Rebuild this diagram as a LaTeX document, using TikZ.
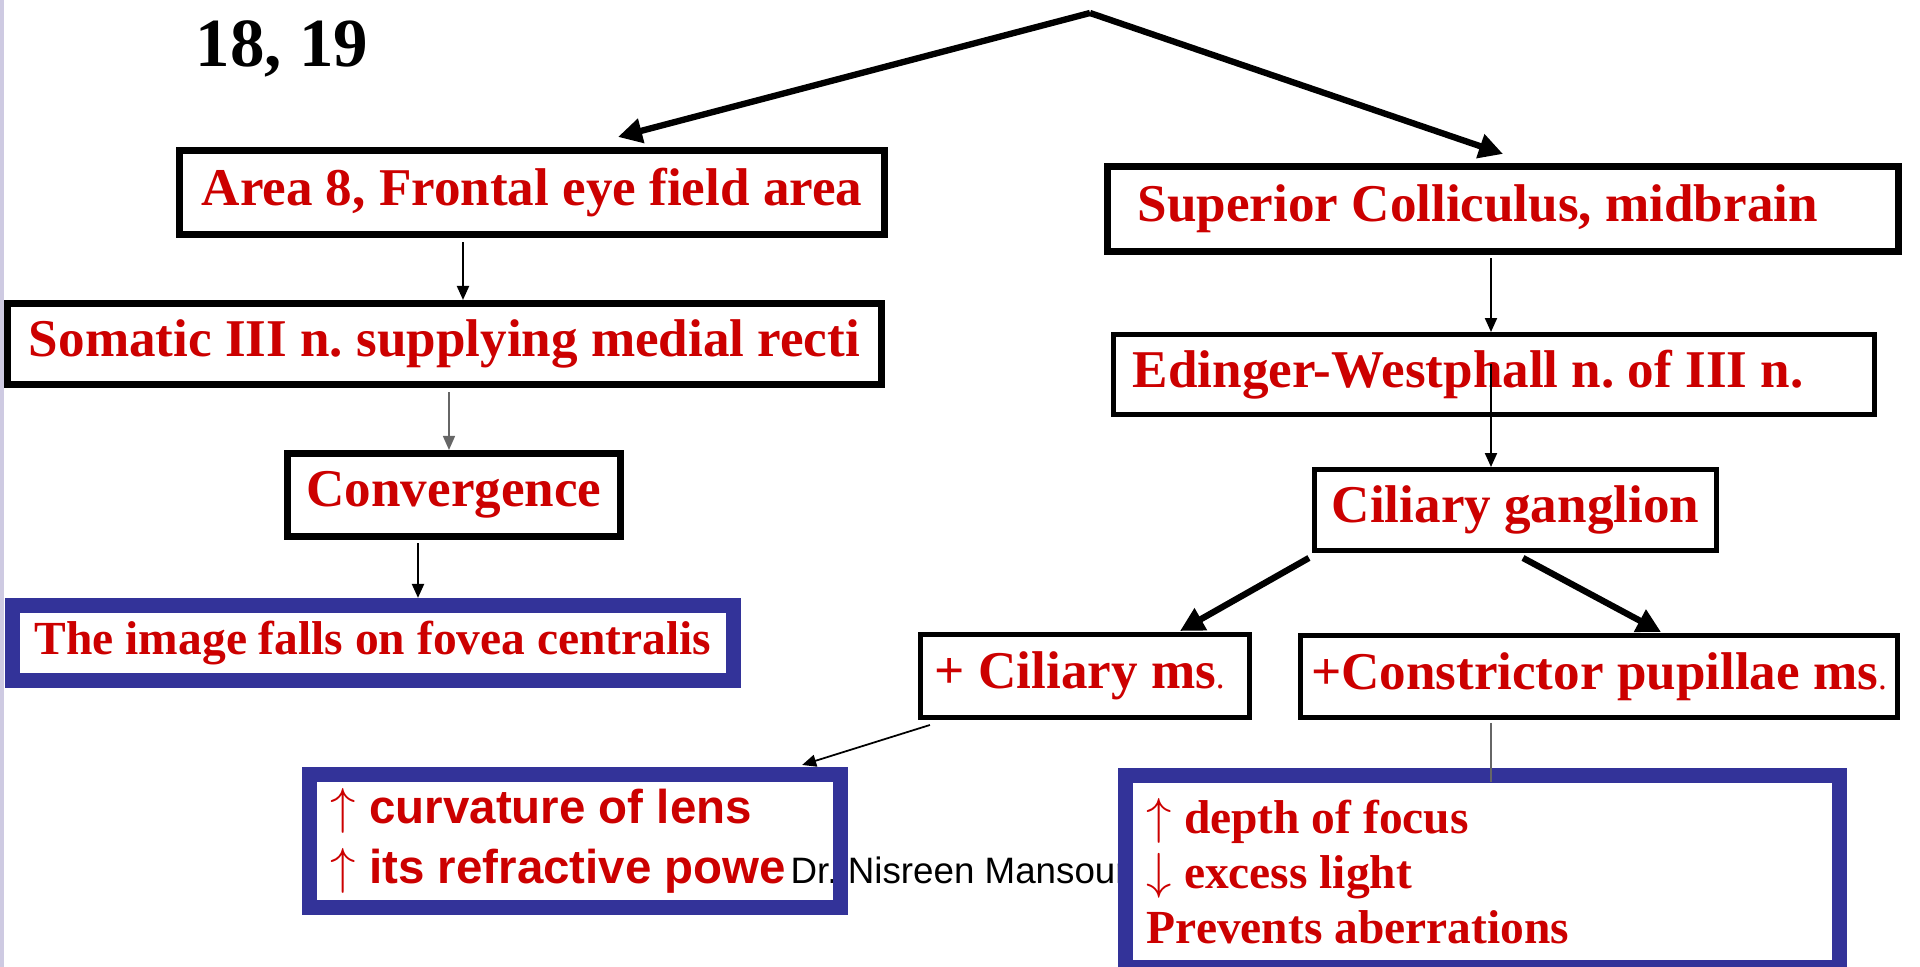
\documentclass[tikz,border=0pt]{standalone}
\usepackage{fontspec}
\setmainfont{Liberation Serif}
\newfontfamily\arialfont{Liberation Sans}
\usetikzlibrary{arrows.meta,calc}
\definecolor{boxred}{RGB}{204,0,0}
\definecolor{boxblue}{RGB}{51,51,153}
\definecolor{edgelilac}{RGB}{206,202,226}
\frenchspacing

\begin{document}
\begin{tikzpicture}[x=0.01cm,y=-0.01cm,
	>={Triangle[width=0.12cm,length=0.14cm]},
	blackbox/.style={draw,line width=2pt,fill=white,text=boxred,inner sep=0pt,
		font=\bfseries\fontsize{15.1pt}{18pt}\selectfont},
	thinbox/.style={blackbox,line width=1.4pt},
	bluebox/.style={draw=boxblue,line width=4.3pt,fill=white,text=boxred,inner sep=0pt,
		font=\bfseries\fontsize{13.5pt}{15.65pt}\selectfont},
	thinarrow/.style={->,line width=0.6pt},
	thickarrow/.style={-{Triangle[width=0.24cm,length=0.24cm]},line width=1.8pt}]
	\fill[white] (0,0) rectangle (1920,967);
	\fill[edgelilac] (0,0) rectangle (4,967);
	\useasboundingbox (0,0) rectangle (1920,967);

	\node[anchor=base west,inner sep=0pt,font=\bfseries\fontsize{19.6pt}{22pt}\selectfont] (areas) at (195,67) {18, 19};
	\coordinate (apex) at (1090,13);

	% left branch
	\node[blackbox,minimum width=7.05cm,minimum height=0.84cm] (area8) at (532,192.5) {Area 8, Frontal eye field area};
	\node[blackbox,minimum width=8.74cm,minimum height=0.81cm] (som) at (444.5,344) {Somatic III n. supplying medial recti};
	\node[blackbox,minimum width=3.33cm,minimum height=0.83cm] (conv) at (454,495) {Convergence};
	\node[bluebox,minimum width=7.21cm,minimum height=0.75cm] (fovea) at (373,643) {The image falls on fovea centralis};

	% right branch
	\node[blackbox,text width=7.30cm,inner xsep=0.305cm,minimum height=0.85cm,align=flush left] (sup) at (1503,209) {Superior Colliculus, midbrain};
	\node[thinbox,text width=7.22cm,inner xsep=0.195cm,minimum height=0.80cm,align=flush left] (edi) at (1494,374.5) {Edinger-Westphall n. of III n.};
	\node[thinbox,minimum width=4.02cm,minimum height=0.81cm] (gang) at (1515.5,510) {Ciliary ganglion};
	\node[thinbox,text width=3.0cm,inner xsep=0.145cm,minimum height=0.83cm,align=flush left] (cms) at (1085,676) {+ Ciliary ms{\mdseries\fontsize{10pt}{12pt}\selectfont.}};
	\node[thinbox,minimum width=5.97cm,minimum height=0.82cm] (con) at (1599,676.5) {+Constrictor pupillae ms{\mdseries\fontsize{10pt}{12pt}\selectfont.}};

	% effect boxes
	\node[bluebox,draw=none,outer sep=0pt,text width=4.88cm,inner xsep=0.215cm,minimum height=1.33cm,align=flush left,
		font=\arialfont\bfseries\fontsize{13.5pt}{17.07pt}\selectfont] (lens) at (575,841)
		{$\uparrow$ curvature of lens\\$\uparrow$ its refractive power};
	\node[anchor=base west,fill=white,inner xsep=0.06cm,inner ysep=0.04cm,font=\arialfont\fontsize{10.45pt}{12pt}\selectfont] (author) at (784,884) {Dr. Nisreen Mansour};
	\draw[boxblue,line width=4.3pt] (lens.south west) rectangle (lens.north east);
	\node[bluebox,text width=6.71cm,inner xsep=0.215cm,minimum height=1.92cm,align=flush left] (depth) at (1482.5,871.5)
		{$\uparrow$ depth of focus\\$\downarrow$ excess light\\Prevents aberrations};

	% connectors
	\draw[thickarrow] (apex) -- ($(area8.north)+(86,-10)$);
	\draw[thickarrow] (apex) -- ($(sup.north)+(0,-9)$);
	\draw[thinarrow] ($(area8.south)+(-69,4)$) -- ($(som.north)+(18.5,0)$);
	\draw[thinarrow,black!60,line width=0.4pt] ($(som.south)+(4.5,4)$) -- ($(conv.north)+(-5,0)$);
	\draw[thinarrow] ($(conv.south)+(-36,3)$) -- ($(fovea.north)+(45,0)$);
	\draw[thinarrow] ($(sup.south)+(-12,3)$) -- ($(edi.north)+(-3,0)$);
	\draw[thinarrow] ($(edi.center)+(-3,-10)$) -- ($(gang.north)+(-24.5,0)$);
	\draw[thickarrow] ($(gang.south west)+(-3,5)$) -- ($(cms.north)+(95,-1)$);
	\draw[thickarrow] ($(gang.south)+(7.5,5)$) -- ($(con.north)+(62,-1)$);
	\draw[thinarrow,line width=0.5pt] ($(cms.south west)+(12,5)$) -- ($(lens.north east)+(-38.5,-9.5)$);
	\draw[black!60,line width=0.5pt] ($(con.south)+(-108,3)$) -- ($(depth.north)+(8.5,14)$);
\end{tikzpicture}
\end{document}
